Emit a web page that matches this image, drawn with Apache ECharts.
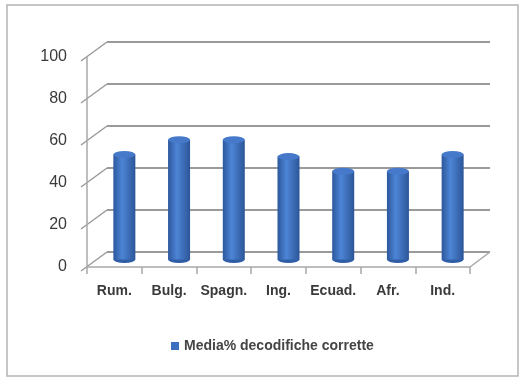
<!DOCTYPE html>
<html>
<head>
<meta charset="utf-8">
<script src="https://cdn.jsdelivr.net/npm/echarts@6/dist/echarts.min.js"></script>
<style>
  html,body{margin:0;padding:0;background:#fff;}
  #chart{width:525px;height:379px;}
</style>
</head>
<body>
<div id="chart"></div>
<script>
   // dati del grafico
   var categories = ['Rum.', 'Bulg.', 'Spagn.', 'Ing.', 'Ecuad.', 'Afr.', 'Ind.'];
   var mediaValues = [50, 57, 57, 49, 42, 42, 50];
   var yTicks = [0, 20, 40, 60, 80, 100];
   var seriesName = 'Media% decodifiche corrette';

   // finto 3D: parete di fondo spostata in alto a destra
   var front = {left: 87, right: 55, top: 57, bottom: 112};
   var dx = 20, dy = 15;
   var gridCol = '#9a9a9a';
   var barBlue = new echarts.graphic.LinearGradient(0, 0, 1, 0, [
       {offset: 0, color: '#2c579c'},
       {offset: 0.4, color: '#4d85d6'},
       {offset: 1, color: '#2c5598'}
   ]);

   var chartDom = document.getElementById('chart');
   var myChart = echarts.init(chartDom);

   var yMin = yTicks[0], yMax = yTicks[yTicks.length - 1], yStep = yTicks[1] - yTicks[0];

   option = {
       animation: false,
       backgroundColor: '#fff',
       grid: [
           // fondo
           {left: front.left + dx, right: front.right - dx, top: front.top - dy, bottom: front.bottom + dy},
           // barre (profondita media)
           {left: front.left + dx / 2, right: front.right - dx / 2, top: front.top - dy / 2, bottom: front.bottom + dy / 2},
           // assi frontali
           {left: front.left, right: front.right, top: front.top, bottom: front.bottom}
       ],
       legend: {
           left: 166,
           top: 334,
           itemWidth: 8,
           itemHeight: 8,
           itemGap: 4,
           icon: 'rect',
           data: [{name: seriesName, itemStyle: {color: '#3b6fc0'}}],
           textStyle: {fontFamily: 'Liberation Sans', fontSize: 14, color: '#444', fontWeight: 'bold'}
       },
       xAxis: [
           {gridIndex: 0, type: 'category', data: categories, show: false},
           {gridIndex: 1, type: 'category', data: categories, show: false},
           {
               gridIndex: 2, type: 'category', data: categories, boundaryGap: true,
               axisLine: {lineStyle: {color: '#a8a8a8', width: 1.5}},
               axisTick: {show: true, length: 7, lineStyle: {color: '#a8a8a8', width: 1.5}},
               axisLabel: {margin: 17, interval: 0, fontFamily: 'Liberation Sans', fontSize: 14, color: '#3a3a3a', fontWeight: 'bold'}
           }
       ],
       yAxis: [
           {
               gridIndex: 0, type: 'value', min: yMin, max: yMax, interval: yStep,
               axisLine: {show: false}, axisTick: {show: false}, axisLabel: {show: false},
               splitLine: {show: true, lineStyle: {color: gridCol, width: 2}}
           },
           {gridIndex: 1, type: 'value', min: yMin, max: yMax, interval: yStep, show: false, splitLine: {show: false}},
           {
               gridIndex: 2, type: 'value', min: yMin, max: yMax, interval: yStep,
               axisLine: {show: true, lineStyle: {color: '#a8a8a8', width: 1.5}},
               axisTick: {show: false},
               splitLine: {show: false},
               axisLabel: {margin: 20, fontFamily: 'Liberation Sans', fontSize: 16, color: '#3a3a3a'}
           }
       ],
       series: [
           {
               name: seriesName,
               type: 'bar',
               xAxisIndex: 1,
               yAxisIndex: 1,
               barWidth: 22,
               data: mediaValues,
               itemStyle: {color: barBlue}
           },
           {
               // fondo del cilindro
               type: 'pictorialBar',
               xAxisIndex: 1,
               yAxisIndex: 1,
               symbol: 'circle',
               symbolSize: [22, 7],
               symbolOffset: [0, '50%'],
               data: mediaValues,
               itemStyle: {color: '#2f5ea6'},
               z: 1
           },
           {
               // cima del cilindro
               type: 'pictorialBar',
               xAxisIndex: 1,
               yAxisIndex: 1,
               symbol: 'circle',
               symbolSize: [22, 7],
               symbolPosition: 'end',
               symbolOffset: [0, '-50%'],
               data: mediaValues,
               itemStyle: {color: '#4679ca'},
               z: 3
           }
       ]
   };

   myChart.setOption(option);

   // linee diagonali della parete sinistra e del pavimento
   var lines = [];
   var W = 525;
   yTicks.forEach(function (v) {
       var yf = myChart.convertToPixel({yAxisIndex: 2}, v);
       var yb = myChart.convertToPixel({yAxisIndex: 0}, v);
       lines.push({
           type: 'line', silent: true,
           shape: {x1: front.left - 6, y1: yf + 4, x2: front.left + dx, y2: yb},
           style: {stroke: gridCol, lineWidth: 1.5}
       });
   });
   var y0f = myChart.convertToPixel({yAxisIndex: 2}, yMin);
   var y0b = myChart.convertToPixel({yAxisIndex: 0}, yMin);
   lines.push({
       type: 'line', silent: true,
       shape: {x1: W - front.right, y1: y0f, x2: W - front.right + dx, y2: y0b},
       style: {stroke: '#a8a8a8', lineWidth: 1.5}
   });
   // cornice esterna
   lines.push({
       type: 'rect', silent: true,
       shape: {x: 7, y: 5, width: 511, height: 371},
       style: {fill: null, stroke: '#b4b4b4', lineWidth: 1.5}
   });
   myChart.setOption({graphic: lines});
</script>
</body>
</html>
